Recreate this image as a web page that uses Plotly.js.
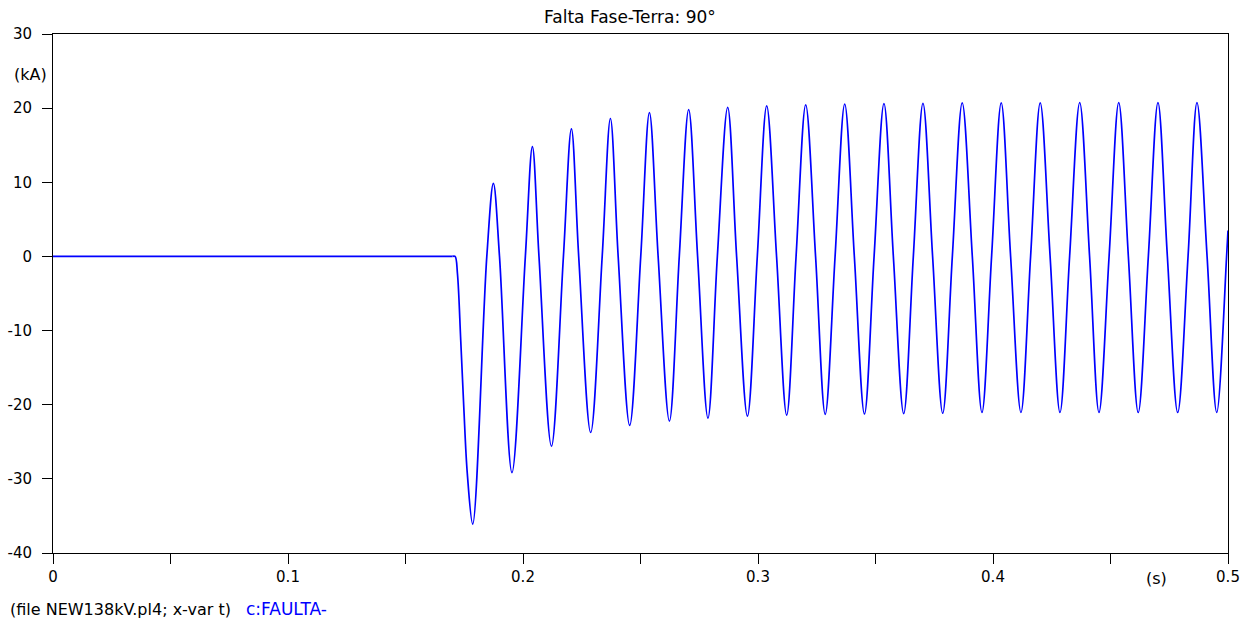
<!DOCTYPE html>
<html>
<head>
<meta charset="utf-8">
<script src="https://cdn.plot.ly/plotly-3.0.1.min.js"></script>
<style>
html,body{margin:0;padding:0;background:#fff;}
#chart{width:1253px;height:625px;}
</style>
</head>
<body>
<div id="chart"></div>
<script>
// Time (s) and fault current (kA)
const time_s = [
  0, 0.1700, 0.1711, 0.1721, 0.1735, 0.1748, 0.1763, 0.1786, 0.1846, 0.1874, 0.1900,
  0.1953, 0.2010, 0.2040, 0.2068, 0.2121, 0.2172, 0.2206, 0.2237, 0.2288, 0.2337,
  0.2372, 0.2405, 0.2454, 0.2501, 0.2538, 0.2575, 0.2623, 0.2665, 0.2705, 0.2743,
  0.2787, 0.2827, 0.2871, 0.2909, 0.2955, 0.2997, 0.3037, 0.3079, 0.3122, 0.3162,
  0.3203, 0.3245, 0.3286, 0.3328, 0.3369, 0.3410, 0.3453, 0.3494, 0.3536, 0.3576,
  0.3620, 0.3661, 0.3702, 0.3743, 0.3786, 0.3827, 0.3869, 0.3912, 0.3953, 0.3994,
  0.4035, 0.4075, 0.4119, 0.4160, 0.4201, 0.4243, 0.4285, 0.4326, 0.4369, 0.4411,
  0.4451, 0.4494, 0.4535, 0.4576, 0.4618, 0.4661, 0.4702, 0.4742, 0.4786, 0.4830,
  0.4868, 0.4911, 0.4952, 0.4994, 0.5000
];
const current_kA = [
  0, 0, 0, -2.3, -11.3, -20.3, -29.3, -36.1, 0, 9.85, 0,
  -29.15, 0, 14.8, 0, -25.6, 0, 17.2, 0, -23.75, 0,
  18.6, 0, -22.8, 0, 19.4, 0, -22.2, 0, 19.8, 0,
  -21.8, 0, 20.1, 0, -21.55, 0, 20.3, 0, -21.4, 0,
  20.45, 0, -21.3, 0, 20.55, 0, -21.25, 0, 20.6, 0,
  -21.2, 0, 20.65, 0, -21.15, 0, 20.7, 0, -21.05, 0,
  20.7, 0, -21.05, 0, 20.7, 0, -21.05, 0, 20.75, 0,
  -21.05, 0, 20.75, 0, -21.05, 0, 20.75, 0, -21.05, 0,
  20.75, 0, -21.05, 0, 3.5
];
const preFaultCount = 2; // points of the flat pre-fault segment
const xTickVals = [0, 0.05, 0.1, 0.15, 0.2, 0.25, 0.3, 0.35, 0.4, 0.45, 0.5];
const xTickText = ['0', '', '0.1', '', '0.2', '', '0.3', '', '0.4', '', '0.5'];
const yTickVals = [-40, -30, -20, -10, 0, 10, 20, 30];
const yTickText = ['-40', '-30', '-20', '-10', '0', '10', '20', '30'];

const FONT = '"DejaVu Sans", Verdana, sans-serif';
const BLUE = '#0000ff';

const traces = [
  {
    x: time_s.slice(0, preFaultCount), y: current_kA.slice(0, preFaultCount),
    type: 'scatter', mode: 'lines', line: {color: BLUE, width: 1.7}, hoverinfo: 'skip'
  },
  {
    x: time_s.slice(preFaultCount - 1), y: current_kA.slice(preFaultCount - 1),
    type: 'scatter', mode: 'lines',
    line: {color: BLUE, width: 1.7, shape: 'spline', smoothing: 1}, hoverinfo: 'skip'
  }
];

const layout = {
  width: 1253, height: 625,
  margin: {l: 53, r: 25, t: 34, b: 72},
  paper_bgcolor: '#ffffff', plot_bgcolor: '#ffffff',
  showlegend: false,
  font: {family: FONT, size: 15, color: '#000'},
  title: {text: 'Falta Fase-Terra: 90°', x: 0.491, xref: 'paper', xanchor: 'center',
          y: 0.972, yanchor: 'middle',
          font: {family: FONT, size: 17, color: '#000'}},
  xaxis: {
    range: [0, 0.5], tickmode: 'array', tickvals: xTickVals, ticktext: xTickText,
    ticks: 'outside', ticklen: 10, tickwidth: 1, tickcolor: '#000',
    showline: true, linecolor: '#000', linewidth: 1, mirror: true,
    showgrid: false, zeroline: false, fixedrange: true,
    tickfont: {family: FONT, size: 15, color: '#000'}
  },
  yaxis: {
    range: [-40, 30], tickmode: 'array', tickvals: yTickVals, ticktext: yTickText,
    ticks: 'outside', ticklen: 10, tickwidth: 1, tickcolor: '#000',
    ticklabelstandoff: 7,
    showline: true, linecolor: '#000', linewidth: 1, mirror: true,
    showgrid: false, zeroline: false, fixedrange: true,
    tickfont: {family: FONT, size: 15, color: '#000'}
  },
  annotations: [
    {text: '(s)', xref: 'x', x: 0.4694, yref: 'paper', y: 0, yshift: -25, yanchor: 'middle',
     showarrow: false, font: {family: FONT, size: 16, color: '#000'}},
    {text: '(kA)', xref: 'paper', x: 0, xshift: -4, xanchor: 'right', yref: 'y', y: 24.6, yanchor: 'middle',
     showarrow: false, font: {family: FONT, size: 16, color: '#000'}},
    {text: '(file NEW138kV.pl4; x-var t)', xref: 'paper', x: 0, xshift: -45, xanchor: 'left',
     yref: 'paper', y: 0, yshift: -56, yanchor: 'middle',
     showarrow: false, font: {family: FONT, size: 16, color: '#000'}},
    {text: 'c:FAULTA-', xref: 'paper', x: 0, xshift: 191, xanchor: 'left',
     yref: 'paper', y: 0, yshift: -56, yanchor: 'middle',
     showarrow: false, font: {family: FONT, size: 17, color: BLUE}}
  ]
};

Plotly.newPlot('chart', traces, layout, {displayModeBar: false, staticPlot: true});
</script>
</body>
</html>
